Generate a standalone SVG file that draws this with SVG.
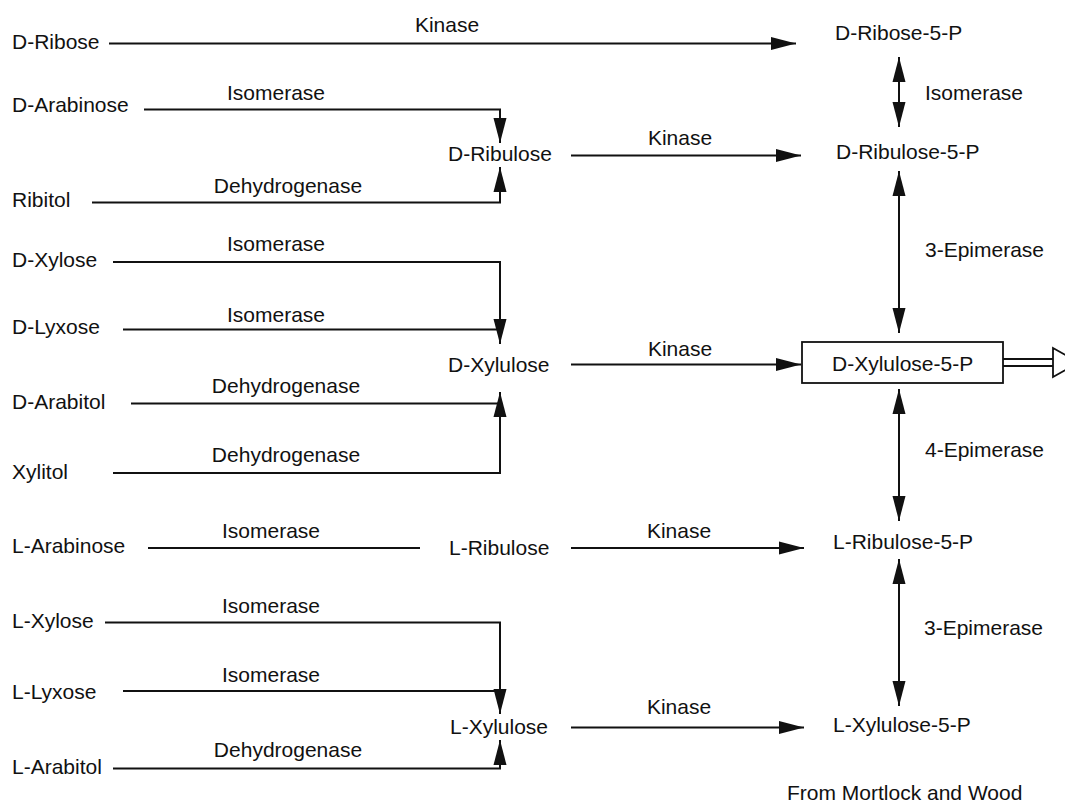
<svg xmlns="http://www.w3.org/2000/svg" width="1065" height="803" viewBox="0 0 1065 803">
<style>
text{font-family:"Liberation Sans",Arial,sans-serif;font-size:21px;fill:#111}
.m{text-anchor:middle}
.c{fill:none;stroke:#111;stroke-width:2}
.ca{fill:none;stroke:#111;stroke-width:2;marker-end:url(#ah)}
.cb{fill:none;stroke:#111;stroke-width:2;marker-end:url(#ah);marker-start:url(#ah)}
</style>
<defs>
<marker id="ah" markerUnits="userSpaceOnUse" markerWidth="25" markerHeight="14" refX="25" refY="7" orient="auto-start-reverse">
<path d="M0,0.5 L25,7 L0,13.5 Z" fill="#111"/>
</marker>
</defs>
<rect width="1065" height="803" fill="#fff"/>
<g id="connectors">
<path class="ca" d="M109,43.5 H796"/>
<path class="ca" d="M144,109.5 H500 V143"/>
<path class="ca" d="M92,202.5 H500 V167"/>
<path class="ca" d="M571,155.5 H801"/>
<path class="ca" d="M113,262 H500 V344"/>
<path class="c" d="M123,329.5 H500"/>
<path class="c" d="M131,403.5 H500"/>
<path class="ca" d="M113,473 H500 V392"/>
<path class="ca" d="M571,364.5 H801"/>
<path class="c" d="M148,548 H420"/>
<path class="ca" d="M571,548 H804"/>
<path class="ca" d="M105,622.5 H500 V714"/>
<path class="c" d="M123,691 H500"/>
<path class="ca" d="M113,768.5 H500 V740"/>
<path class="ca" d="M571,727.5 H804"/>
<path class="cb" d="M899,57 V127"/>
<path class="cb" d="M899,171 V333"/>
<path class="cb" d="M899,389 V521"/>
<path class="cb" d="M899,559 V706"/>
<g id="output-arrow" stroke="#111" stroke-width="1.8" fill="#fff">
<path d="M1003,359 H1053 M1003,366 H1053"/>
<path d="M1053,348 L1079,362.5 L1053,377 Z"/>
</g>
<text class="m" x="447" y="32">Kinase</text>
<text class="m" x="276" y="100">Isomerase</text>
<text class="m" x="288" y="193">Dehydrogenase</text>
<text class="m" x="680" y="145">Kinase</text>
<text x="925" y="100">Isomerase</text>
<text x="925" y="257">3-Epimerase</text>
<text class="m" x="276" y="251">Isomerase</text>
<text class="m" x="276" y="322">Isomerase</text>
<text class="m" x="286" y="393">Dehydrogenase</text>
<text class="m" x="286" y="462">Dehydrogenase</text>
<text class="m" x="680" y="356">Kinase</text>
<text x="925" y="457">4-Epimerase</text>
<text class="m" x="271" y="538">Isomerase</text>
<text class="m" x="679" y="538">Kinase</text>
<text x="924" y="635">3-Epimerase</text>
<text class="m" x="271" y="613">Isomerase</text>
<text class="m" x="271" y="682">Isomerase</text>
<text class="m" x="679" y="714">Kinase</text>
<text class="m" x="288" y="757">Dehydrogenase</text>
</g>
<g id="d-ribose"><text x="12" y="49">D-Ribose</text></g>
<g id="d-arabinose"><text x="12" y="112">D-Arabinose</text></g>
<g id="ribitol"><text x="12" y="207">Ribitol</text></g>
<g id="d-ribulose"><text x="448" y="161">D-Ribulose</text></g>
<g id="d-ribose-5-p"><text x="835" y="40">D-Ribose-5-P</text></g>
<g id="d-ribulose-5-p"><text x="836" y="159">D-Ribulose-5-P</text></g>
<g id="d-xylose"><text x="12" y="267">D-Xylose</text></g>
<g id="d-lyxose"><text x="12" y="334">D-Lyxose</text></g>
<g id="d-arabitol"><text x="12" y="409">D-Arabitol</text></g>
<g id="xylitol"><text x="12" y="479">Xylitol</text></g>
<g id="d-xylulose"><text x="448" y="372">D-Xylulose</text></g>
<g id="d-xylulose-5-p"><rect x="802" y="342" width="201" height="41" fill="#fff" stroke="#111" stroke-width="1.8"/><text x="832" y="371">D-Xylulose-5-P</text></g>
<g id="l-arabinose"><text x="12" y="553">L-Arabinose</text></g>
<g id="l-ribulose"><text x="449" y="555">L-Ribulose</text></g>
<g id="l-ribulose-5-p"><text x="833" y="549">L-Ribulose-5-P</text></g>
<g id="l-xylose"><text x="12" y="628">L-Xylose</text></g>
<g id="l-lyxose"><text x="12" y="699">L-Lyxose</text></g>
<g id="l-arabitol"><text x="12" y="774">L-Arabitol</text></g>
<g id="l-xylulose"><text x="450" y="734">L-Xylulose</text></g>
<g id="l-xylulose-5-p"><text x="833" y="732">L-Xylulose-5-P</text></g>
<g id="source"><text x="787" y="800">From Mortlock and Wood</text></g>
</svg>
